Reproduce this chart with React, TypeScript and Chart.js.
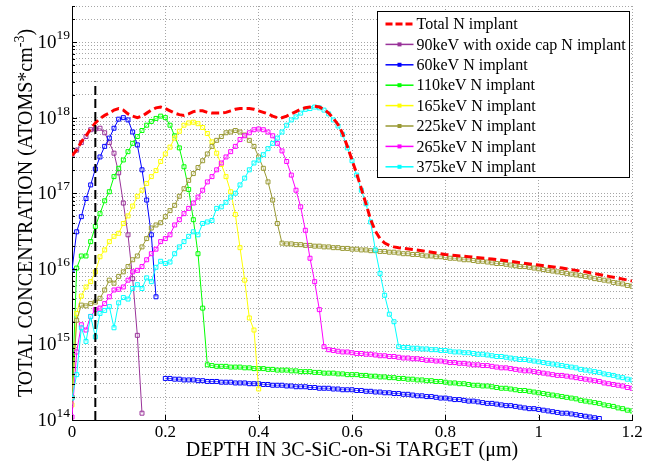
import React, { useEffect, useRef } from 'react';
import { Chart, registerables } from 'chart.js';

Chart.register(...registerables);

const FONT = "'Liberation Serif', 'Times New Roman', Times, serif";

// ---- axes ----
const DEPTH_STEP = 0.01; // µm between successive samples of a profile
const X_MIN = 0;
const X_MAX = 1.2;
const X_TICK_STEP = 0.2;
const X_TICKS = [0, 0.2, 0.4, 0.6, 0.8, 1, 1.2];
const Y_DECADES = [14, 15, 16, 17, 18, 19];
const Y_MULTIPLIERS = [1, 2, 3, 4, 5, 6, 7, 8, 9];
const Y_MIN = 1e14;
const Y_MAX = 3e19;
const X_TITLE = 'DEPTH IN 3C-SiC-on-Si TARGET (\u03bcm)';
const Y_TITLE = 'TOTAL CONCENTRATION (ATOMS*cm';
const Y_TITLE_SUP = '-3';

// oxide-cap depth marker
const CAP_DEPTH = 0.05;
const CAP_RANGE = [1e14, 3e18];

// ---- data: log10(concentration), one value every DEPTH_STEP from the start depth ----
const TOTAL_START = 0;
const TOTAL_LOG = [
  17.50, 17.57, 17.68, 17.76, 17.85, 17.93, 17.99, 18.03, 18.06, 18.10,
  18.12, 18.10, 18.05, 18.02, 18.00, 18.02, 18.06, 18.10, 18.13, 18.14,
  18.12, 18.09, 18.06, 18.04, 18.03, 18.05, 18.08, 18.09, 18.09, 18.07,
  18.06, 18.06, 18.06, 18.07, 18.09, 18.11, 18.12, 18.12, 18.12, 18.11,
  18.09, 18.07, 18.05, 18.02, 18.00, 18.00, 18.02, 18.05, 18.08, 18.11,
  18.13, 18.14, 18.15, 18.14, 18.11, 18.06, 17.99, 17.91, 17.79, 17.62,
  17.44, 17.26, 17.06, 16.86, 16.65, 16.50, 16.40, 16.34, 16.31, 16.29,
  16.28,
];
const TOTAL_TAIL_DEPTH = [0.75, 0.8, 0.85, 0.9, 0.95, 1.0, 1.05, 1.1, 1.15, 1.2];
const TOTAL_TAIL_LOG = [16.24, 16.19, 16.16, 16.13, 16.09, 16.05, 16.01, 15.96, 15.90, 15.84];

const OX90_START = 0;
const OX90_LOG = [
  17.50, 17.57, 17.67, 17.75, 17.84, 17.85, 17.86, 17.80, 17.67, 17.53,
  17.27, 16.87, 16.45, 15.87, 15.12, 14.09,
];

const KEV60_START = 0;
const KEV60_LOG = [
  15.98, 16.49, 16.69, 16.93, 17.11, 17.32, 17.48, 17.62, 17.73, 17.86,
  17.98, 18.00, 17.97, 17.81, 17.64, 17.31, 16.91, 16.45, 15.63,
];
const KEV60_TAIL_START = 0.2;
const KEV60_TAIL_LOG = [
  14.55, 14.55, 14.54, 14.54, 14.53, 14.53, 14.53, 14.52, 14.52, 14.51,
  14.51, 14.51, 14.50, 14.50, 14.50, 14.49, 14.49, 14.49, 14.48, 14.48,
  14.48, 14.47, 14.47, 14.46, 14.46, 14.46, 14.45, 14.45, 14.44, 14.44,
  14.44, 14.43, 14.43, 14.42, 14.42, 14.42, 14.41, 14.41, 14.40, 14.40,
  14.40, 14.39, 14.39, 14.38, 14.38, 14.37, 14.37, 14.36, 14.36, 14.35,
  14.35, 14.34, 14.34, 14.33, 14.32, 14.32, 14.31, 14.31, 14.30, 14.29,
  14.29, 14.28, 14.27, 14.27, 14.26, 14.25, 14.25, 14.24, 14.23, 14.22,
  14.22, 14.21, 14.20, 14.19, 14.19, 14.18, 14.17, 14.16, 14.15, 14.15,
  14.14, 14.13, 14.12, 14.11, 14.10, 14.09, 14.09, 14.08, 14.07, 14.06,
  14.05, 14.04, 14.03, 14.02,
];

const KEV110_START = 0;
const KEV110_LOG = [
  14.30, 16.01, 16.17, 16.17, 16.36, 16.56, 16.73, 16.90, 17.02, 17.22,
  17.33, 17.44, 17.55, 17.66, 17.75, 17.83, 17.90, 17.95, 17.99, 18.02,
  18.00, 17.90, 17.76, 17.60, 17.35, 17.05, 16.65, 16.20, 15.48, 14.73,
];
const KEV110_TAIL_START = 0.3;
const KEV110_TAIL_LOG = [
  14.72, 14.71, 14.71, 14.71, 14.70, 14.70, 14.70, 14.69, 14.69, 14.68,
  14.68, 14.68, 14.67, 14.67, 14.66, 14.66, 14.66, 14.65, 14.65, 14.64,
  14.64, 14.64, 14.63, 14.63, 14.62, 14.62, 14.62, 14.61, 14.61, 14.60,
  14.60, 14.60, 14.59, 14.59, 14.58, 14.58, 14.57, 14.57, 14.56, 14.56,
  14.55, 14.55, 14.54, 14.54, 14.53, 14.53, 14.52, 14.52, 14.51, 14.51,
  14.50, 14.49, 14.49, 14.48, 14.48, 14.47, 14.46, 14.46, 14.45, 14.45,
  14.44, 14.43, 14.42, 14.42, 14.41, 14.40, 14.39, 14.39, 14.38, 14.37,
  14.36, 14.35, 14.34, 14.33, 14.32, 14.31, 14.30, 14.29, 14.28, 14.26,
  14.25, 14.24, 14.23, 14.22, 14.20, 14.19, 14.18, 14.16, 14.15, 14.13,
  14.12,
];

const KEV165_START = 0;
const KEV165_LOG = [
  14.20, 15.41, 15.64, 15.76, 15.83, 15.96, 16.16, 16.25, 16.36, 16.43,
  16.47, 16.60, 16.70, 16.83, 16.96, 17.04, 17.13, 17.22, 17.30, 17.42,
  17.52, 17.61, 17.73, 17.82, 17.90, 17.93, 17.94, 17.92, 17.87, 17.79,
  17.68, 17.53, 17.38, 17.22, 17.02, 16.72, 16.28, 15.85, 15.35, 15.19,
  14.41,
];

const KEV225_START = 0;
const KEV225_LOG = [
  14.30, 15.32, 15.52, 15.51, 15.54, 15.56, 15.61, 15.72, 15.85, 15.81,
  15.90, 15.96, 16.03, 16.12, 16.17, 16.29, 16.40, 16.54, 16.58, 16.61,
  16.69, 16.77, 16.84, 16.96, 17.06, 17.17, 17.26, 17.34, 17.43, 17.52,
  17.62, 17.70, 17.75, 17.80, 17.81, 17.83, 17.81, 17.77, 17.70, 17.62,
  17.48, 17.33, 17.15, 16.91, 16.60, 16.34,
];
const KEV225_TAIL_START = 0.46;
const KEV225_TAIL_LOG = [
  16.33, 16.33, 16.32, 16.32,
  16.31, 16.31, 16.30, 16.30, 16.29, 16.29, 16.28, 16.28, 16.27, 16.27,
  16.26, 16.26, 16.25, 16.25, 16.24, 16.24, 16.23, 16.23, 16.22, 16.22,
  16.21, 16.20, 16.20, 16.19, 16.19, 16.18, 16.17, 16.17, 16.16, 16.16,
  16.15, 16.14, 16.14, 16.13, 16.12, 16.12, 16.11, 16.10, 16.10, 16.09,
  16.08, 16.07, 16.07, 16.06, 16.05, 16.04, 16.03, 16.03, 16.02, 16.01,
  16.00, 15.99, 15.98, 15.97, 15.96, 15.95, 15.94, 15.93, 15.92, 15.91,
  15.90, 15.89, 15.87, 15.86, 15.85, 15.84, 15.82, 15.81, 15.80, 15.78,
  15.77,
];

const KEV265_START = 0;
const KEV265_LOG = [
  14.04, 14.90, 15.26, 15.19, 15.37, 15.46, 15.48, 15.54, 15.63, 15.72,
  15.73, 15.76, 15.85, 15.96, 15.98, 16.03, 16.12, 16.20, 16.26, 16.36,
  16.40, 16.45, 16.58, 16.65, 16.73, 16.80, 16.87, 16.95, 17.04, 17.15,
  17.22, 17.31, 17.40, 17.48, 17.55, 17.62, 17.71, 17.76, 17.80, 17.84,
  17.85, 17.84, 17.81, 17.76, 17.66, 17.56, 17.42, 17.24, 17.04, 16.82,
  16.51, 16.14, 15.83, 15.46, 14.97,
];
const KEV265_TAIL_START = 0.55;
const KEV265_TAIL_LOG = [
  14.93, 14.92, 14.91, 14.90, 14.90,
  14.89, 14.88, 14.88, 14.87, 14.87, 14.86, 14.85, 14.85, 14.84, 14.84,
  14.83, 14.82, 14.82, 14.81, 14.81, 14.80, 14.79, 14.79, 14.78, 14.78,
  14.77, 14.76, 14.76, 14.75, 14.75, 14.74, 14.73, 14.73, 14.72, 14.72,
  14.71, 14.70, 14.69, 14.69, 14.68, 14.67, 14.66, 14.65, 14.65, 14.64,
  14.63, 14.62, 14.61, 14.60, 14.59, 14.59, 14.58, 14.57, 14.56, 14.55,
  14.54, 14.53, 14.52, 14.51, 14.49, 14.48, 14.47, 14.46, 14.45, 14.43,
  14.42,
];

const KEV375_START = 0;
const KEV375_LOG = [
  14.29, 14.60, 15.22, 15.04, 15.37, 15.10, 15.41, 15.45, 15.50, 15.22,
  15.55, 15.62, 15.60, 15.74, 15.79, 15.74, 15.88, 15.83, 16.02, 16.10,
  16.07, 16.09, 16.20, 16.29, 16.36, 16.43, 16.49, 16.45, 16.60, 16.62,
  16.64, 16.80, 16.82, 16.88, 16.95, 17.00, 17.11, 17.20, 17.31, 17.40,
  17.44, 17.51, 17.59, 17.66, 17.73, 17.81, 17.90, 17.97, 18.01, 18.06,
  18.11, 18.12, 18.14, 18.13, 18.10, 18.05, 17.97, 17.89, 17.78, 17.60,
  17.43, 17.24, 17.04, 16.86, 16.62, 16.25, 15.94, 15.65, 15.40, 15.30,
  14.97,
];
const KEV375_TAIL_START = 0.71;
const KEV375_TAIL_LOG = [
  14.96, 14.96, 14.95, 14.95, 14.94, 14.94, 14.93, 14.93, 14.92,
  14.92, 14.91, 14.90, 14.90, 14.89, 14.89, 14.88, 14.87, 14.87, 14.86,
  14.85, 14.84, 14.84, 14.83, 14.82, 14.81, 14.80, 14.80, 14.79, 14.78,
  14.77, 14.76, 14.75, 14.74, 14.73, 14.72, 14.71, 14.70, 14.69, 14.67,
  14.66, 14.65, 14.64, 14.63, 14.61, 14.60, 14.59, 14.57, 14.56, 14.54,
  14.53,
];

const TOTAL_LABEL = 'Total N implant';
const TOTAL_COLOR = '#ff0000';

type Seg = { start: number; logs: number[]; gapBefore?: boolean };
type Series = { label: string; color: string; segs: Seg[] };

const SERIES: Series[] = [
  { label: '90keV with oxide cap N implant', color: '#993399', segs: [{ start: OX90_START, logs: OX90_LOG }] },
  {
    label: '60keV N implant', color: '#0000ff',
    segs: [{ start: KEV60_START, logs: KEV60_LOG }, { start: KEV60_TAIL_START, logs: KEV60_TAIL_LOG, gapBefore: true }],
  },
  {
    label: '110keV N implant', color: '#00ff00',
    segs: [{ start: KEV110_START, logs: KEV110_LOG }, { start: KEV110_TAIL_START, logs: KEV110_TAIL_LOG }],
  },
  { label: '165keV N implant', color: '#ffff00', segs: [{ start: KEV165_START, logs: KEV165_LOG }] },
  {
    label: '225keV N implant', color: '#999933',
    segs: [{ start: KEV225_START, logs: KEV225_LOG }, { start: KEV225_TAIL_START, logs: KEV225_TAIL_LOG }],
  },
  {
    label: '265keV N implant', color: '#ff00ff',
    segs: [{ start: KEV265_START, logs: KEV265_LOG }, { start: KEV265_TAIL_START, logs: KEV265_TAIL_LOG }],
  },
  {
    label: '375keV N implant', color: '#00ffff',
    segs: [{ start: KEV375_START, logs: KEV375_LOG }, { start: KEV375_TAIL_START, logs: KEV375_TAIL_LOG }],
  },
];

const r2 = (v: number) => Math.round(v * 100) / 100;

function segPoints(start: number, logs: number[]) {
  return logs.map((v, i) => ({ x: r2(start + i * DEPTH_STEP), y: Math.pow(10, v) }));
}

function seriesPoints(s: Series) {
  const out: { x: number; y: number | null }[] = [];
  s.segs.forEach((seg) => {
    if (seg.gapBefore) out.push({ x: r2(seg.start - DEPTH_STEP / 2), y: null });
    out.push(...segPoints(seg.start, seg.logs));
  });
  return out;
}

const totalPoints = [
  ...segPoints(TOTAL_START, TOTAL_LOG),
  ...TOTAL_TAIL_DEPTH.map((d, i) => ({ x: d, y: Math.pow(10, TOTAL_TAIL_LOG[i]) })),
];

const Y_GRID: { value: number; major: boolean }[] = [];
Y_DECADES.forEach((d) => {
  Y_MULTIPLIERS.forEach((m) => {
    const v = m * Math.pow(10, d);
    if (v <= Y_MAX * 1.0001) Y_GRID.push({ value: v, major: m === 1 });
  });
});

const GRID_COLOR = '#a6a6a6';

const decorPlugin = {
  id: 'decor',
  afterDraw(chart: any) {
    const { ctx, chartArea: a, scales } = chart;
    const xs = scales.x;
    const ys = scales.y;
    ctx.save();
    ctx.setLineDash([]);
    ctx.strokeStyle = '#000';
    ctx.lineWidth = 1;
    // inward tick marks
    ctx.beginPath();
    X_TICKS.forEach((v) => {
      const px = Math.round(xs.getPixelForValue(v)) + 0.5;
      ctx.moveTo(px, a.bottom);
      ctx.lineTo(px, a.bottom - 5);
    });
    Y_GRID.forEach((g) => {
      const py = Math.round(ys.getPixelForValue(g.value)) + 0.5;
      ctx.moveTo(a.left, py);
      ctx.lineTo(a.left + (g.major ? 5 : 3), py);
    });
    ctx.stroke();

    // y tick labels 10^n
    ctx.fillStyle = '#000';
    ctx.textAlign = 'right';
    ctx.textBaseline = 'alphabetic';
    Y_DECADES.forEach((d) => {
      const py = ys.getPixelForValue(Math.pow(10, d));
      ctx.font = `13.5px ${FONT}`;
      const exp = String(d);
      const ew = ctx.measureText(exp).width;
      ctx.fillText(exp, a.left - 2, py - 3);
      ctx.font = `19px ${FONT}`;
      ctx.fillText('10', a.left - 2 - ew, py + 6);
    });

    // x title
    ctx.textAlign = 'center';
    ctx.font = `20px ${FONT}`;
    ctx.fillText(X_TITLE, (a.left + a.right) / 2, 456);

    // y title (rotated) with superscript
    ctx.save();
    ctx.translate(32, (a.top + a.bottom) / 2);
    ctx.rotate(-Math.PI / 2);
    ctx.textAlign = 'left';
    ctx.font = `20px ${FONT}`;
    const w1 = ctx.measureText(Y_TITLE).width;
    const w3 = ctx.measureText(')').width;
    ctx.font = `14px ${FONT}`;
    const w2 = ctx.measureText(Y_TITLE_SUP).width;
    const x0 = -(w1 + w2 + w3) / 2;
    ctx.font = `20px ${FONT}`;
    ctx.fillText(Y_TITLE, x0, 0);
    ctx.fillText(')', x0 + w1 + w2, 0);
    ctx.font = `14px ${FONT}`;
    ctx.fillText(Y_TITLE_SUP, x0 + w1, -8);
    ctx.restore();

    // legend box
    const L = Math.round(a.right - 255) + 0.5;
    const T = Math.round(a.top + 5) + 0.5;
    const W = 252;
    const H = 166;
    ctx.fillStyle = '#fff';
    ctx.fillRect(L, T, W, H);
    ctx.strokeStyle = '#000';
    ctx.lineWidth = 1;
    ctx.strokeRect(L, T, W, H);
    const rowY0 = T + 12.5;
    const rowH = 20.4;
    const lx1 = L + 8;
    const lx2 = L + 36;
    const entries = [{ label: TOTAL_LABEL, color: TOTAL_COLOR, dashed: true }, ...SERIES.map((s) => ({ label: s.label, color: s.color, dashed: false }))];
    entries.forEach((e, i) => {
      const y = rowY0 + i * rowH;
      ctx.save();
      ctx.strokeStyle = e.color;
      if (e.dashed) {
        ctx.lineWidth = 3;
        ctx.setLineDash([7, 3]);
      } else {
        ctx.lineWidth = 1.5;
      }
      ctx.beginPath();
      ctx.moveTo(lx1, y);
      ctx.lineTo(lx2, y);
      ctx.stroke();
      ctx.restore();
      if (!e.dashed) {
        ctx.fillStyle = e.color;
        ctx.fillRect((lx1 + lx2) / 2 - 2, y - 2, 4, 4);
      }
      ctx.fillStyle = '#000';
      ctx.font = `16px ${FONT}`;
      ctx.textAlign = 'left';
      ctx.textBaseline = 'middle';
      ctx.fillText(e.label, lx2 + 3, y + 1);
    });
    ctx.restore();
  },
};

export default function App() {
  const ref = useRef<HTMLCanvasElement>(null);
  useEffect(() => {
    document.body.style.margin = '0';
    const canvas = ref.current;
    if (!canvas) return;
    const seriesDatasets = SERIES.map((s, i) => ({
      label: s.label,
      data: seriesPoints(s),
      borderColor: s.color,
      backgroundColor: s.color,
      borderWidth: 1,
      pointStyle: 'rect',
      pointRadius: 2.8,
      pointBorderWidth: 1,
      pointBorderColor: s.color,
      pointBackgroundColor: 'rgba(255,255,255,0.35)',
      spanGaps: false,
      order: 2 + (SERIES.length - 1 - i),
    }));
    const chart = new Chart(canvas, {
      type: 'line',
      data: {
        datasets: [
          {
            label: 'cap',
            data: [
              { x: CAP_DEPTH, y: CAP_RANGE[0] },
              { x: CAP_DEPTH, y: CAP_RANGE[1] },
            ],
            borderColor: '#000',
            borderWidth: 2,
            borderDash: [9, 4],
            pointRadius: 0,
            order: 0,
          },
          {
            label: TOTAL_LABEL,
            data: totalPoints,
            borderColor: TOTAL_COLOR,
            borderWidth: 3,
            borderDash: [8, 4],
            pointRadius: 0,
            order: 1,
          },
          ...seriesDatasets,
        ] as any,
      },
      options: {
        animation: false,
        responsive: false,
        maintainAspectRatio: false,
        layout: { padding: { top: 6, right: 14, left: 0, bottom: 0 } },
        plugins: { legend: { display: false }, tooltip: { enabled: false }, title: { display: false } },
        elements: { line: { tension: 0 } },
        scales: {
          x: {
            type: 'linear',
            min: X_MIN,
            max: X_MAX,
            ticks: {
              stepSize: X_TICK_STEP,
              color: '#000',
              padding: 2,
              maxRotation: 0,
              font: { family: FONT, size: 17 },
              callback: (v: any) => {
                const n = Number(v);
                return Math.abs(n - Math.round(n)) < 1e-9 ? String(Math.round(n)) : n.toFixed(1);
              },
            },
            grid: { color: GRID_COLOR, drawTicks: false, lineWidth: 1 },
            border: { display: true, color: '#000', width: 1, dash: [1, 2] },
            afterFit: (s: any) => {
              s.height = 42;
            },
          },
          y: {
            type: 'logarithmic',
            min: Y_MIN,
            max: Y_MAX,
            ticks: { display: false },
            grid: { color: GRID_COLOR, drawTicks: false, lineWidth: 1 },
            border: { display: true, color: '#000', width: 1, dash: [1, 2] },
            afterBuildTicks: (s: any) => {
              s.ticks = Y_GRID.map((g) => ({ value: g.value }));
            },
            afterFit: (s: any) => {
              s.width = 72;
            },
          },
        },
      } as any,
      plugins: [decorPlugin],
    });
    return () => chart.destroy();
  }, []);
  return (
    <div style={{ width: 646, height: 462 }}>
      <canvas ref={ref} width={646} height={462} style={{ display: 'block', width: 646, height: 462 }} />
    </div>
  );
}
